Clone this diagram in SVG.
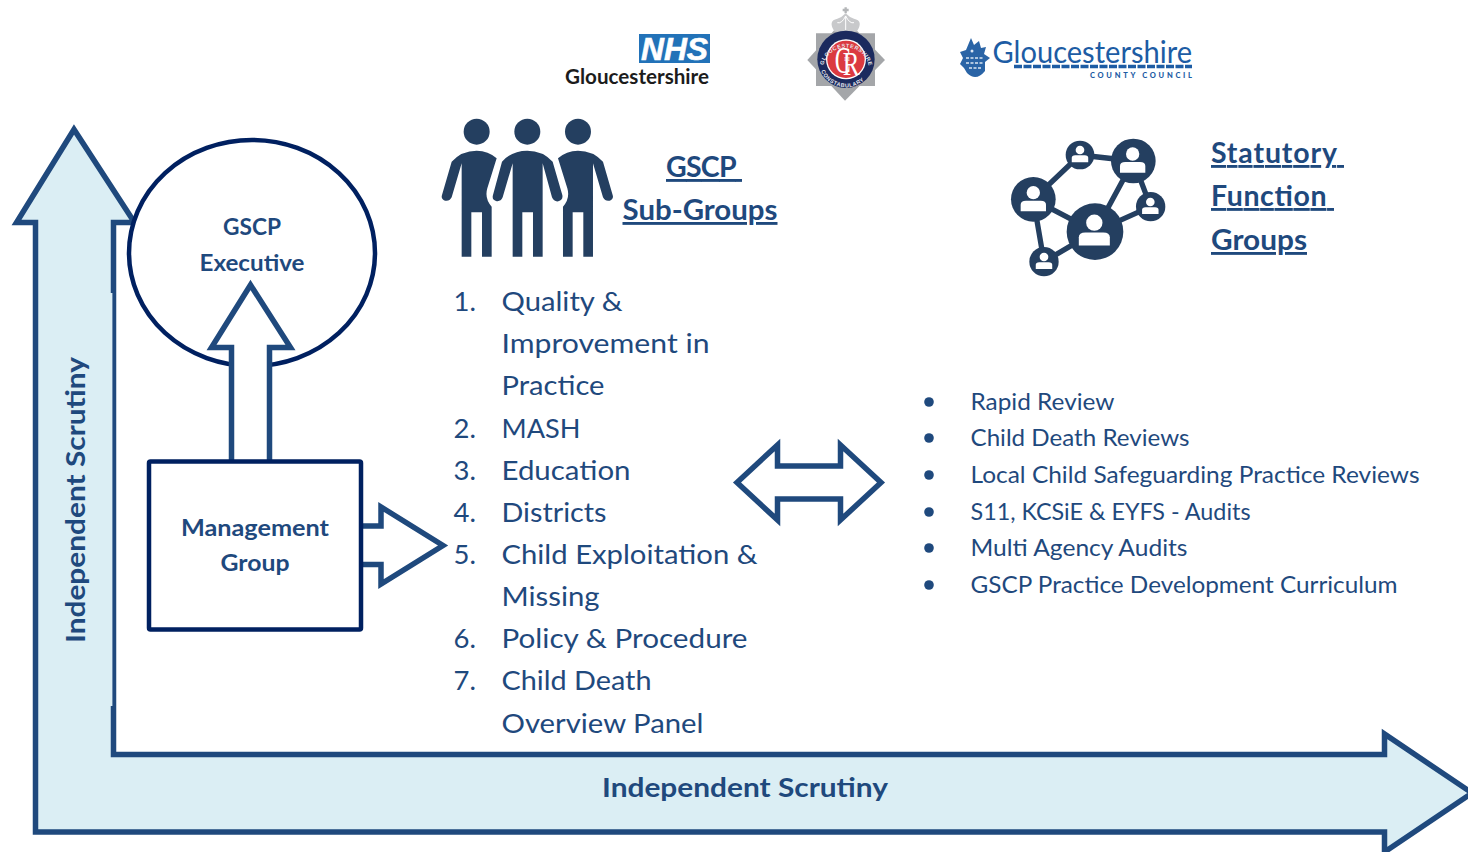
<svg xmlns="http://www.w3.org/2000/svg" width="1468" height="852" viewBox="0 0 1468 852">
<style>
text{font-family:"Lato","Open Sans","Liberation Sans",sans-serif;fill:#1F497D}
.li{font-size:27.5px}
.bl{font-size:23.5px}
.hd{font-size:28.5px;font-weight:700;text-decoration:underline;fill:#1F497D;white-space:pre}
.lb{font-size:23.5px;font-weight:700;text-anchor:middle}
.sc{font-size:27.5px;font-weight:700}
.arrow{fill:#fff;stroke:#1F497D;stroke-width:5.5;stroke-linejoin:miter;stroke-miterlimit:8}
.icon{fill:#243F60}
.dot{fill:#1F497D}
.ring{font-family:"Liberation Sans",sans-serif;font-size:16.5px;font-weight:700;fill:#E8E8EE;letter-spacing:1.6px}
.cr{font-family:"Liberation Serif",serif;fill:#fff}
</style>
<defs>
<g id="pers"><circle r="10" fill="#fff"/><path d="M-19 28V18Q-19 12-11 12H11Q19 12 19 18V28Z" fill="#fff"/></g>
<path id="ringTop" d="M70 196A70 70 0 0 1 206 196"/>
<path id="ringBot" d="M58 198A82 82 0 0 0 218 198"/>
</defs>

<g id="scrutiny-arrow">
<path d="M35.5 832V222.5H16.5L74 129.5L134.5 222.5H113.5V754.5H1384.5V734L1472 793L1384.5 852V832Z" fill="#DBEEF4" stroke="#1F497D" stroke-width="5.5" stroke-miterlimit="8"/>
<rect x="110" y="293" width="2.4" height="413" fill="#DBEEF4"/>
<text class="sc" transform="translate(84.5 643) rotate(-90)" textLength="286" lengthAdjust="spacingAndGlyphs">Independent Scrutiny</text>
<text class="sc" x="602" y="797" textLength="286" lengthAdjust="spacingAndGlyphs">Independent Scrutiny</text>
</g>

<g id="executive">
<ellipse cx="252" cy="253" rx="123" ry="113" fill="#fff" stroke="#002060" stroke-width="4.5"/>
<text class="lb" x="252" y="235" textLength="58" lengthAdjust="spacingAndGlyphs">GSCP</text>
<text class="lb" x="252" y="271" textLength="105" lengthAdjust="spacingAndGlyphs">Executive</text>
</g>

<g id="connectors">
<path class="arrow" d="M231.5 464V347.5H211.5L250.5 285L290.5 347.5H269.5V464"/>
<path class="arrow" d="M360 526H381V507L443 545.5L381 584V564.5H360"/>
<path class="arrow" d="M737 482.5L777.5 445V466H840.5V445L881 482.5L840.5 520V499H777.5V520Z"/>
</g>

<g id="management">
<rect x="149" y="461.5" width="212" height="168" rx="1.5" fill="#fff" stroke="#002060" stroke-width="4.5"/>
<text class="lb" x="255" y="536" textLength="148" lengthAdjust="spacingAndGlyphs">Management</text>
<text class="lb" x="255" y="571" textLength="69" lengthAdjust="spacingAndGlyphs">Group</text>
</g>

<g id="people-icon" transform="translate(430 110) scale(.3333)">
<circle class="icon" cx="140" cy="65" r="39"/><circle class="icon" cx="292" cy="65" r="39"/><circle class="icon" cx="444" cy="65" r="39"/>
<path class="icon" d="M65 155Q95 122 140 122Q175 122 200 145L172 235Q163 265 185 290V440H156V307H124V440H95V160L65 262Q58 275 45 272Q32 268 36 255Z"/>
<path class="icon" d="M216 155Q245 122 292 122Q338 122 368 155L397 255Q400 270 385 274Q372 276 366 262L338 160V440H309V307H277V440H248V160L218 262Q212 276 198 273Q185 270 189 255Z"/>
<path class="icon" d="M519 155Q489 122 444 122Q409 122 384 145L412 235Q421 265 399 290V440H428V307H460V440H489V160L519 262Q526 275 539 272Q552 268 548 255Z"/>
</g>

<g id="subgroups-heading">
<text class="hd" x="666" y="177" textLength="76">GSCP </text>
<text class="hd" x="622.5" y="220" textLength="155" lengthAdjust="spacingAndGlyphs">Sub-Groups</text>
</g>

<g id="subgroups-list">
<text class="li" x="453.5" y="311">1.</text><text class="li" x="501.5" y="311" textLength="121" lengthAdjust="spacingAndGlyphs">Quality &amp;</text>
<text class="li" x="501.5" y="353" textLength="208" lengthAdjust="spacingAndGlyphs">Improvement in</text>
<text class="li" x="501.5" y="395" textLength="103" lengthAdjust="spacingAndGlyphs">Practice</text>
<text class="li" x="453.5" y="438">2.</text><text class="li" x="501.5" y="438" textLength="79" lengthAdjust="spacingAndGlyphs">MASH</text>
<text class="li" x="453.5" y="480">3.</text><text class="li" x="501.5" y="480" textLength="129" lengthAdjust="spacingAndGlyphs">Education</text>
<text class="li" x="453.5" y="522">4.</text><text class="li" x="501.5" y="522" textLength="105" lengthAdjust="spacingAndGlyphs">Districts</text>
<text class="li" x="453.5" y="564">5.</text><text class="li" x="501.5" y="564" textLength="256" lengthAdjust="spacingAndGlyphs">Child Exploitation &amp;</text>
<text class="li" x="501.5" y="606" textLength="98" lengthAdjust="spacingAndGlyphs">Missing</text>
<text class="li" x="453.5" y="648">6.</text><text class="li" x="501.5" y="648" textLength="246" lengthAdjust="spacingAndGlyphs">Policy &amp; Procedure</text>
<text class="li" x="453.5" y="690">7.</text><text class="li" x="501.5" y="690" textLength="150" lengthAdjust="spacingAndGlyphs">Child Death</text>
<text class="li" x="501.5" y="733" textLength="202" lengthAdjust="spacingAndGlyphs">Overview Panel</text>
</g>

<g id="network-icon" transform="translate(1000 130) scale(.3333)">
<g stroke="#243F60" stroke-width="16" fill="none">
<path d="M240 75L400 93M240 75L100 208M400 93L285 305M400 93L452 230M100 208L285 305M100 208L132 395M285 305L452 230M285 305L132 395"/>
</g>
<circle class="icon" cx="240" cy="75" r="43"/><circle class="icon" cx="400" cy="93" r="67"/><circle class="icon" cx="100" cy="208" r="67"/><circle class="icon" cx="285" cy="305" r="85"/><circle class="icon" cx="452" cy="230" r="44"/><circle class="icon" cx="132" cy="395" r="44"/>
<use href="#pers" transform="translate(240 60) scale(1.3)"/>
<use href="#pers" transform="translate(398 72) scale(2)"/>
<use href="#pers" transform="translate(100 188) scale(2)"/>
<use href="#pers" transform="translate(283 278) scale(2.45)"/>
<use href="#pers" transform="translate(451 216) scale(1.3)"/>
<use href="#pers" transform="translate(132 381) scale(1.3)"/>
</g>

<g id="statutory-heading">
<text class="hd" x="1211" y="163" textLength="133">Statutory </text>
<text class="hd" x="1211" y="206" textLength="123">Function </text>
<text class="hd" x="1211" y="250" textLength="96" lengthAdjust="spacingAndGlyphs">Groups</text>
</g>

<g id="statutory-list">
<circle class="dot" cx="929" cy="402" r="4.8"/><text class="bl" x="970.5" y="410" textLength="144" lengthAdjust="spacingAndGlyphs">Rapid Review</text>
<circle class="dot" cx="929" cy="438" r="4.8"/><text class="bl" x="970.5" y="446" textLength="219" lengthAdjust="spacingAndGlyphs">Child Death Reviews</text>
<circle class="dot" cx="929" cy="475" r="4.8"/><text class="bl" x="970.5" y="483" textLength="449" lengthAdjust="spacingAndGlyphs">Local Child Safeguarding Practice Reviews</text>
<circle class="dot" cx="929" cy="512" r="4.8"/><text class="bl" x="970.5" y="520" textLength="280" lengthAdjust="spacingAndGlyphs">S11, KCSiE &amp; EYFS - Audits</text>
<circle class="dot" cx="929" cy="548" r="4.8"/><text class="bl" x="970.5" y="556" textLength="217" lengthAdjust="spacingAndGlyphs">Multi Agency Audits</text>
<circle class="dot" cx="929" cy="585" r="4.8"/><text class="bl" x="970.5" y="593" textLength="427" lengthAdjust="spacingAndGlyphs">GSCP Practice Development Curriculum</text>
</g>

<g id="nhs-logo">
<rect x="639" y="34" width="71" height="29" fill="#2272B8"/>
<text x="641" y="60" textLength="67" lengthAdjust="spacingAndGlyphs" style="font-family:'Liberation Sans',sans-serif;font-size:32px;font-weight:700;font-style:italic;fill:#fff;stroke:#fff;stroke-width:.6">NHS</text>
<text x="565" y="84" textLength="144" lengthAdjust="spacingAndGlyphs" style="font-size:20px;font-weight:700;fill:#1c1c1c">Gloucestershire</text>
</g>

<g id="police-badge" transform="translate(800 0) scale(.3333)">
<path d="M48 100H225V258H48Z" fill="#A4A6A9"/>
<path d="M135 55L255 180L135 302L22 180Z" fill="#A4A6A9"/>
<path d="M137 22V40M128 30H146" stroke="#B4B6B8" stroke-width="7" fill="none"/>
<path d="M104 95Q82 62 112 56Q126 52 137 40Q148 52 162 56Q192 62 170 95Z" fill="#C8C9CB"/>
<path d="M112 68Q125 72 137 48Q149 72 162 68M137 48V90" stroke="#fff" stroke-width="3" fill="none"/>
<circle cx="138" cy="178" r="86" fill="#1B2A5E"/>
<circle cx="138" cy="178" r="60" fill="#fff"/>
<circle cx="138" cy="178" r="56" fill="#DB3A40"/>
<text class="cr" style="font-size:112px" x="104" y="218" textLength="48" lengthAdjust="spacingAndGlyphs">C</text>
<text class="cr" style="font-size:104px" x="128" y="226" textLength="50" lengthAdjust="spacingAndGlyphs">R</text>
<text class="cr" style="font-size:16px" x="133" y="183">III</text>
<text class="ring"><textPath href="#ringTop">GLOUCESTERSHIRE</textPath></text>
<text class="ring"><textPath href="#ringBot" startOffset="16">CONSTABULARY</textPath></text>
</g>

<g id="county-logo">
<path d="M971 38L974 45L979 41L981 48L986 47L984 54L990 58L985 62V71Q976 82 967 73L964 68L960 64L963 58L960 52L966 50Z" fill="#2A64A6"/>
<path d="M966 58H984M966 63H984M969 68H981" stroke="#DCE6F2" stroke-width="1.6" stroke-dasharray="3 1.5" fill="none"/>
<circle cx="972" cy="51" r="1.5" fill="#DCE6F2"/>
<text x="992.5" y="63" textLength="199.5" lengthAdjust="spacingAndGlyphs" style="font-size:31px;font-weight:400;fill:#1D5CA4">Gloucestershire</text>
<path d="M1014 66.5H1192" stroke="#1D5CA4" stroke-width="3.5" stroke-dasharray="8 1.5" fill="none"/>
<text x="1090" y="78" textLength="102" style="font-size:7.5px;font-weight:900;fill:#1D5CA4">COUNTY COUNCIL</text>
</g>
</svg>
